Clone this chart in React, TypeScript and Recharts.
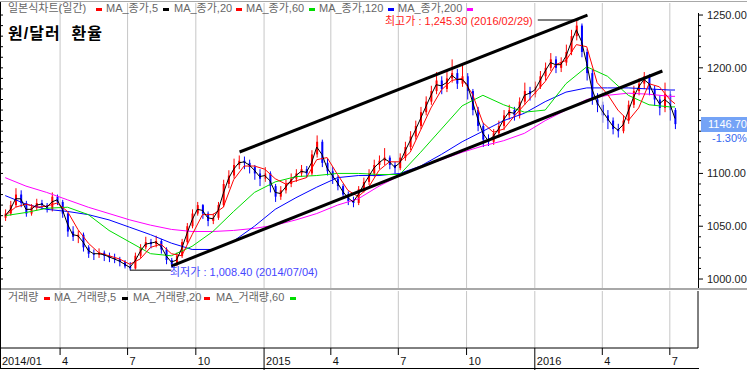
import React from 'react';
import { ComposedChart, Bar, Line, XAxis, YAxis, ReferenceLine } from 'recharts';

// ---------- data (weekly candles) ----------
const START_DATE = '2014-01-17';
const FIRST_OPEN = 1058;
const closes = [
  1062, 1070, 1080, 1072, 1062, 1068, 1072, 1070, 1066, 1078,
  1073, 1062, 1045, 1040, 1042, 1030, 1024, 1023, 1025, 1022,
  1020, 1019, 1016, 1012, 1010, 1022, 1030, 1035, 1033, 1036,
  1028, 1018, 1014, 1022, 1035, 1050, 1062, 1070, 1062, 1055,
  1058, 1070, 1090, 1098, 1108, 1112, 1110, 1106, 1100, 1095,
  1100, 1088, 1078, 1084, 1090, 1095, 1100, 1104, 1100, 1118,
  1130, 1110, 1102, 1095, 1088, 1080, 1074, 1072, 1085, 1092,
  1100, 1108, 1112, 1115, 1108, 1105, 1115, 1125, 1135, 1145,
  1158, 1168, 1178, 1188, 1180, 1190, 1195, 1185, 1192, 1178,
  1160, 1145, 1132, 1130, 1138, 1145, 1155, 1160, 1155, 1168,
  1178, 1175, 1182, 1192, 1200, 1208, 1200, 1205, 1215, 1230,
  1240, 1215, 1195, 1170, 1165, 1155, 1150, 1142, 1140, 1150,
  1165, 1178, 1185, 1192, 1180, 1170, 1162, 1175, 1160, 1146.7,
];
const highs = [
  1066, 1074, 1086, 1084, 1074, 1071, 1076, 1075, 1072, 1082,
  1080, 1075, 1063, 1050, 1046, 1044, 1032, 1028, 1029, 1027,
  1025, 1024, 1021, 1018, 1016, 1025, 1033, 1040, 1038, 1041,
  1038, 1030, 1020, 1025, 1038, 1053, 1066, 1073, 1071, 1064,
  1062, 1073, 1094, 1103, 1114, 1117, 1116, 1113, 1108, 1104,
  1106, 1102, 1090, 1088, 1094, 1100, 1104, 1108, 1107, 1122,
  1136, 1132, 1114, 1106, 1098, 1090, 1083, 1078, 1088, 1096,
  1104, 1113, 1117, 1124, 1117, 1111, 1119, 1130, 1140, 1150,
  1163, 1173, 1183, 1196, 1192, 1197, 1208, 1199, 1203, 1195,
  1180, 1163, 1148, 1137, 1142, 1150, 1160, 1165, 1163, 1172,
  1186, 1182, 1187, 1197, 1205, 1214, 1211, 1210, 1222, 1236,
  1245.3, 1242, 1218, 1198, 1176, 1168, 1160, 1153, 1147, 1155,
  1169, 1183, 1190, 1196, 1194, 1183, 1174, 1186, 1178, 1162,
];
const lows = [
  1055, 1060, 1068, 1068, 1059, 1060, 1065, 1066, 1063, 1064,
  1070, 1058, 1040, 1036, 1034, 1026, 1020, 1018, 1020, 1017,
  1016, 1015, 1012, 1010, 1008.4, 1009, 1020, 1028, 1029, 1030,
  1024, 1014, 1011, 1012, 1020, 1033, 1048, 1060, 1057, 1050,
  1052, 1056, 1068, 1086, 1095, 1104, 1104, 1100, 1094, 1088,
  1092, 1082, 1073, 1075, 1081, 1087, 1092, 1097, 1096, 1098,
  1115, 1106, 1098, 1090, 1084, 1076, 1070, 1068, 1070, 1082,
  1089, 1097, 1104, 1108, 1104, 1100, 1103, 1112, 1122, 1132,
  1142, 1155, 1165, 1175, 1175, 1177, 1186, 1180, 1182, 1170,
  1155, 1140, 1125, 1126, 1127, 1134, 1141, 1151, 1150, 1152,
  1165, 1169, 1172, 1180, 1188, 1197, 1195, 1196, 1202, 1212,
  1226, 1210, 1188, 1165, 1158, 1148, 1142, 1137, 1134, 1138,
  1147, 1162, 1174, 1180, 1174, 1164, 1155, 1158, 1150, 1142,
];
// MA_종가,5 (weekly samples)
const ma5 = [
  1060, 1066, 1076, 1076, 1066, 1066, 1070, 1071, 1068, 1073,
  1075, 1066, 1052, 1042, 1041, 1035, 1027, 1024, 1024, 1023,
  1021, 1019, 1017, 1014, 1011, 1017, 1026, 1033, 1034, 1035,
  1031, 1022, 1016, 1018, 1029, 1043, 1056, 1066, 1065, 1058,
  1057, 1065, 1081, 1095, 1104, 1110, 1111, 1108, 1103, 1097,
  1098, 1093, 1082, 1081, 1087, 1093, 1098, 1102, 1101, 1110,
  1125, 1118, 1105, 1098, 1091, 1083, 1077, 1073, 1080, 1089,
  1097, 1105, 1110, 1114, 1111, 1106, 1110, 1121, 1131, 1141,
  1152, 1163, 1174, 1184, 1183, 1186, 1193, 1189, 1189, 1184,
  1168, 1152, 1138, 1131, 1135, 1142, 1151, 1158, 1157, 1163,
  1174, 1176, 1179, 1188, 1197, 1205, 1203, 1203, 1211, 1224,
  1236, 1225, 1204, 1180, 1167, 1159, 1152, 1145, 1141, 1146,
  1159, 1172, 1182, 1189, 1185, 1174, 1166, 1170, 1166, 1152,
];
// MA_종가,20 (every 2nd week, last = final week)
const ma20 = [
  1060, 1068, 1071, 1068, 1069, 1072, 1064, 1047, 1034, 1025,
  1022, 1019, 1014, 1019, 1030, 1033, 1024, 1022, 1042, 1061,
  1061, 1068, 1094, 1107, 1107, 1104, 1095, 1090, 1093, 1096,
  1113, 1115, 1099, 1084, 1078, 1087, 1103, 1111, 1111, 1120,
  1141, 1162, 1179, 1188, 1190, 1175, 1148, 1139, 1142, 1154,
  1165, 1176, 1187, 1203, 1207, 1222, 1220, 1186, 1175, 1160,
  1150, 1162, 1185, 1182, 1170, 1166,
];
// MA_종가,60 / 120 / 200 (every 4th week, last = final week)
const ma60 = [
  1060, 1063, 1067, 1068, 1061, 1046, 1035, 1024, 1022, 1031,
  1045, 1064, 1082, 1092, 1097, 1098, 1100, 1100, 1099, 1099,
  1120, 1142, 1164, 1174, 1165, 1158, 1160, 1185, 1201, 1192,
  1174, 1165, 1163, 1163,
];
const ma120 = [
  1079, 1071, 1066, 1064, 1061, 1056, 1049, 1042, 1034, 1028,
  1028, 1036, 1050, 1066, 1077, 1087, 1096, 1098, 1098, 1100,
  1107, 1118, 1130, 1140, 1150, 1157, 1168, 1177, 1181, 1181,
  1181, 1180, 1179, 1179,
];
const ma200 = [
  1096, 1088, 1082, 1075, 1068, 1062, 1056, 1051, 1047, 1045,
  1045, 1046, 1048, 1051, 1056, 1062, 1070, 1076, 1088, 1098,
  1106, 1113, 1120, 1126, 1131, 1138, 1150, 1160, 1170, 1174,
  1176, 1175, 1173, 1173,
];

const tickDates = ['2014-01-10', '2014-04-01', '2014-07-01', '2014-10-01', '2015-01-01', '2015-04-01', '2015-07-01', '2015-10-01', '2016-01-01', '2016-04-01', '2016-07-01'];
const tickLabels = ['2014/01', '4', '7', '10', '2015', '4', '7', '10', '2016', '4', '7'];
const yearTickLabels = ['2015', '2016'];
const priceTicks = [1000, 1010, 1020, 1030, 1040, 1050, 1060, 1070, 1080, 1090, 1100, 1110, 1120, 1130, 1140, 1150, 1160, 1170, 1180, 1190, 1200, 1210, 1220, 1230, 1240, 1250];
// 1150.00 is hidden behind the last-price box in the reference
const labelledPriceTicks = [1000, 1050, 1100, 1200, 1250];

const upperTrend = [{ date: '2014-11-29', value: 1120.3 }, { date: '2016-03-12', value: 1250 }];
const lowerTrend = [{ date: '2014-08-29', value: 1012.3 }, { date: '2016-06-21', value: 1197 }];
const highMark = { text: '최고가 : 1,245.30 (2016/02/29)', value: 1245.3, from: '2016-01-05', to: '2016-02-29' };
const lowMark = { text: '최저가 : 1,008.40 (2014/07/04)', value: 1008.4, from: '2014-07-04', to: '2014-08-29' };
const lastPrice = '1146.70';
const lastChange = '-1.30%';

const priceLegend = [
  { label: '일본식차트(일간)', color: '#ff0000' },
  { label: 'MA_종가,5', color: '#000000' },
  { label: 'MA_종가,20', color: '#ff0000' },
  { label: 'MA_종가,60', color: '#00dd00' },
  { label: 'MA_종가,120', color: '#0000ff' },
  { label: 'MA_종가,200', color: '#ff00ff' },
];
const volumeLegend = [
  { label: '거래량', color: '#ff0000' },
  { label: 'MA_거래량,5', color: '#000000' },
  { label: 'MA_거래량,20', color: '#ff0000' },
  { label: 'MA_거래량,60', color: '#00dd00' },
];

// ---------- helpers ----------
const DAY0 = Date.UTC(2014, 0, 1);
const dayOf = (s: string) => (Date.parse(s + 'T00:00:00Z') - DAY0) / 86400000;
const X_DOMAIN: [number, number] = [9, 950];
const Y_DOMAIN: [number, number] = [991.5, 1261.4];

const startDay = dayOf(START_DATE);
const last = closes.length - 1;
const data = closes.map((c, i) => {
  const o = i === 0 ? FIRST_OPEN : closes[i - 1];
  const k2 = i % 2 === 0 ? i / 2 : i === last ? ma20.length - 1 : -1;
  const k4 = i % 4 === 0 ? i / 4 : i === last ? ma60.length - 1 : -1;
  return {
    t: startDay + 7 * i,
    o,
    c,
    h: highs[i],
    l: lows[i],
    range: [lows[i], highs[i]],
    ma5: ma5[i],
    ma20: k2 >= 0 ? ma20[k2] : null,
    ma60: k4 >= 0 ? ma60[k4] : null,
    ma120: k4 >= 0 ? ma120[k4] : null,
    ma200: k4 >= 0 ? ma200[k4] : null,
  };
});
const tickDays = tickDates.map(dayOf);
const gridDays = tickDays.slice(1);

const FONT = '"Liberation Sans", Arial, "Noto Sans CJK KR", sans-serif';
const CHART_W = 747;
const AXIS_W = 49;
const PLOT_R = CHART_W - AXIS_W;

const Candle = (props: any) => {
  const { x, y, width, height, payload } = props;
  if (!payload) return null;
  const { o, c, h, l } = payload;
  const top = Math.min(y, y + height);
  const span = Math.abs(height);
  const k = span / (h - l);
  const yO = top + (h - o) * k;
  const yC = top + (h - c) * k;
  const color = c >= o ? '#ff0000' : '#0000ff';
  const cx = x + width / 2;
  return (
    <g>
      <line x1={cx} x2={cx} y1={top} y2={top + span} stroke={color} strokeWidth={1} />
      <rect x={x} y={Math.min(yO, yC)} width={width} height={Math.max(1, Math.abs(yC - yO))} fill={color} />
    </g>
  );
};

const PriceTick = (props: any) => {
  const { y, payload } = props;
  const v = payload.value;
  const major = v % 50 === 0;
  return (
    <g>
      <line x1={PLOT_R} x2={PLOT_R + (major ? 5 : 3)} y1={y} y2={y} stroke="#000" />
      <line x1={0} x2={3} y1={y} y2={y} stroke="#000" />
      {labelledPriceTicks.includes(v) && (
        <text x={PLOT_R + 9} y={y + 4} fontSize={11} fill="#222" fontFamily={FONT}>
          {v.toFixed(2)}
        </text>
      )}
    </g>
  );
};

const VOL_H = 80;
const XAXIS_H = 22;
const DateTick = (props: any) => {
  const { x, index } = props;
  const label = tickLabels[index];
  const axisY = VOL_H - XAXIS_H;
  const isYear = yearTickLabels.includes(label);
  return (
    <g>
      <line x1={x} x2={x} y1={axisY} y2={isYear ? VOL_H : axisY + 7} stroke="#000" />
      <text x={x + 2} y={axisY + 17} fontSize={11} fill="#111" fontFamily={FONT}>
        {label}
      </text>
    </g>
  );
};

const Legend = ({ items, positions, top }: { items: { label: string; color: string }[]; positions: number[][]; top: number }) => (
  <>
    {items.map((it, i) => (
      <React.Fragment key={i}>
        <div style={{ position: 'absolute', left: positions[i][0], top, fontSize: 11, lineHeight: '13px', color: '#666', whiteSpace: 'nowrap' }}>{it.label}</div>
        <div style={{ position: 'absolute', left: positions[i][1], top: top + 6, width: 6, height: 3, background: it.color }} />
      </React.Fragment>
    ))}
  </>
);

export default function App() {
  return (
    <div style={{ position: 'absolute', left: 0, top: 0, width: 747, height: 370, background: '#fff', overflow: 'hidden', fontFamily: FONT }}>
      <div style={{ position: 'absolute', left: 0, top: 0 }}>
        <ComposedChart width={CHART_W} height={290} data={data} margin={{ top: 3, right: 0, bottom: 2, left: 0 }}>
          <XAxis type="number" dataKey="t" domain={X_DOMAIN} hide allowDataOverflow />
          <YAxis
            orientation="right"
            width={AXIS_W}
            type="number"
            domain={Y_DOMAIN}
            ticks={priceTicks}
            interval={0}
            tick={<PriceTick />}
            tickLine={false}
            axisLine={false}
            allowDataOverflow
          />
          {gridDays.map((d) => (
            <ReferenceLine key={d} x={d} stroke="#c6c6c6" />
          ))}
          <Bar dataKey="range" barSize={2} shape={<Candle />} isAnimationActive={false} />
          <Line dataKey="ma200" stroke="#ff00ff" strokeWidth={1} dot={false} connectNulls isAnimationActive={false} />
          <Line dataKey="ma120" stroke="#0000ff" strokeWidth={1} dot={false} connectNulls isAnimationActive={false} />
          <Line dataKey="ma60" stroke="#00dd00" strokeWidth={1} dot={false} connectNulls isAnimationActive={false} />
          <Line dataKey="ma20" stroke="#ff0000" strokeWidth={1} dot={false} connectNulls isAnimationActive={false} />
          <Line dataKey="ma5" stroke="#000000" strokeWidth={1} dot={false} connectNulls isAnimationActive={false} />
          <ReferenceLine
            segment={upperTrend.map((p) => ({ x: dayOf(p.date), y: p.value }))}
            stroke="#000"
            strokeWidth={3}
          />
          <ReferenceLine
            segment={lowerTrend.map((p) => ({ x: dayOf(p.date), y: p.value }))}
            stroke="#000"
            strokeWidth={3}
          />
          <ReferenceLine
            segment={[{ x: dayOf(highMark.from), y: highMark.value }, { x: dayOf(highMark.to), y: highMark.value }]}
            stroke="#000"
          />
          <ReferenceLine
            segment={[{ x: dayOf(lowMark.from), y: lowMark.value }, { x: dayOf(lowMark.to), y: lowMark.value }]}
            stroke="#000"
          />
        </ComposedChart>
      </div>
      <div style={{ position: 'absolute', left: 0, top: 290 }}>
        <ComposedChart width={CHART_W} height={VOL_H} data={data} margin={{ top: 1, right: 0, bottom: 0, left: 0 }}>
          <XAxis
            type="number"
            dataKey="t"
            domain={X_DOMAIN}
            ticks={tickDays}
            interval={0}
            tick={<DateTick />}
            tickLine={false}
            axisLine={{ stroke: '#000' }}
            height={XAXIS_H}
            allowDataOverflow
          />
          <YAxis orientation="right" width={AXIS_W} domain={[0, 1]} tick={false} tickLine={false} axisLine={{ stroke: '#000' }} allowDataOverflow />
          {gridDays.map((d) => (
            <ReferenceLine key={d} x={d} stroke="#c6c6c6" />
          ))}
          <Line dataKey="volume" stroke="none" dot={false} isAnimationActive={false} />
        </ComposedChart>
      </div>

      {/* frame lines */}
      <div style={{ position: 'absolute', left: 0, top: 1, width: 747, height: 1, background: '#a8a8a8' }} />
      <div style={{ position: 'absolute', left: 0, top: 288, width: 747, height: 2, background: '#a8a8a8' }} />
      <div style={{ position: 'absolute', left: 0, top: 2, width: 1, height: 367, background: '#000' }} />
      <div style={{ position: 'absolute', left: PLOT_R, top: 13, width: 1, height: 275, background: '#000' }} />
      <div style={{ position: 'absolute', left: 0, top: 368, width: PLOT_R + 1, height: 1, background: '#000' }} />

      {/* legends & title */}
      <Legend items={priceLegend} top={2} positions={[[8, 96], [106, 163], [174, 236], [246, 309], [319, 388], [398, 467]]} />
      <div style={{ position: 'absolute', left: 8, top: 20, fontSize: 16, fontWeight: 'bold', color: '#000', whiteSpace: 'pre', letterSpacing: 1 }}>원/달러  환율</div>
      <Legend items={volumeLegend} top={291} positions={[[8, 44], [54, 122], [133, 204], [216, 290]]} />

      {/* annotations */}
      <div style={{ position: 'absolute', left: 385, top: 12, fontSize: 11, color: '#ff2020', whiteSpace: 'nowrap' }}>{highMark.text}</div>
      <div style={{ position: 'absolute', left: 170, top: 263, fontSize: 11, color: '#4646ff', whiteSpace: 'nowrap' }}>{lowMark.text}</div>

      {/* last price box */}
      <div style={{ position: 'absolute', left: 701, top: 117, width: 46, height: 15, background: '#74a3f6', color: '#fff', fontSize: 11, lineHeight: '15px', paddingLeft: 7, boxSizing: 'border-box' }}>{lastPrice}</div>
      <div style={{ position: 'absolute', left: 712, top: 132, fontSize: 11, color: '#3568f0' }}>{lastChange}</div>
    </div>
  );
}
